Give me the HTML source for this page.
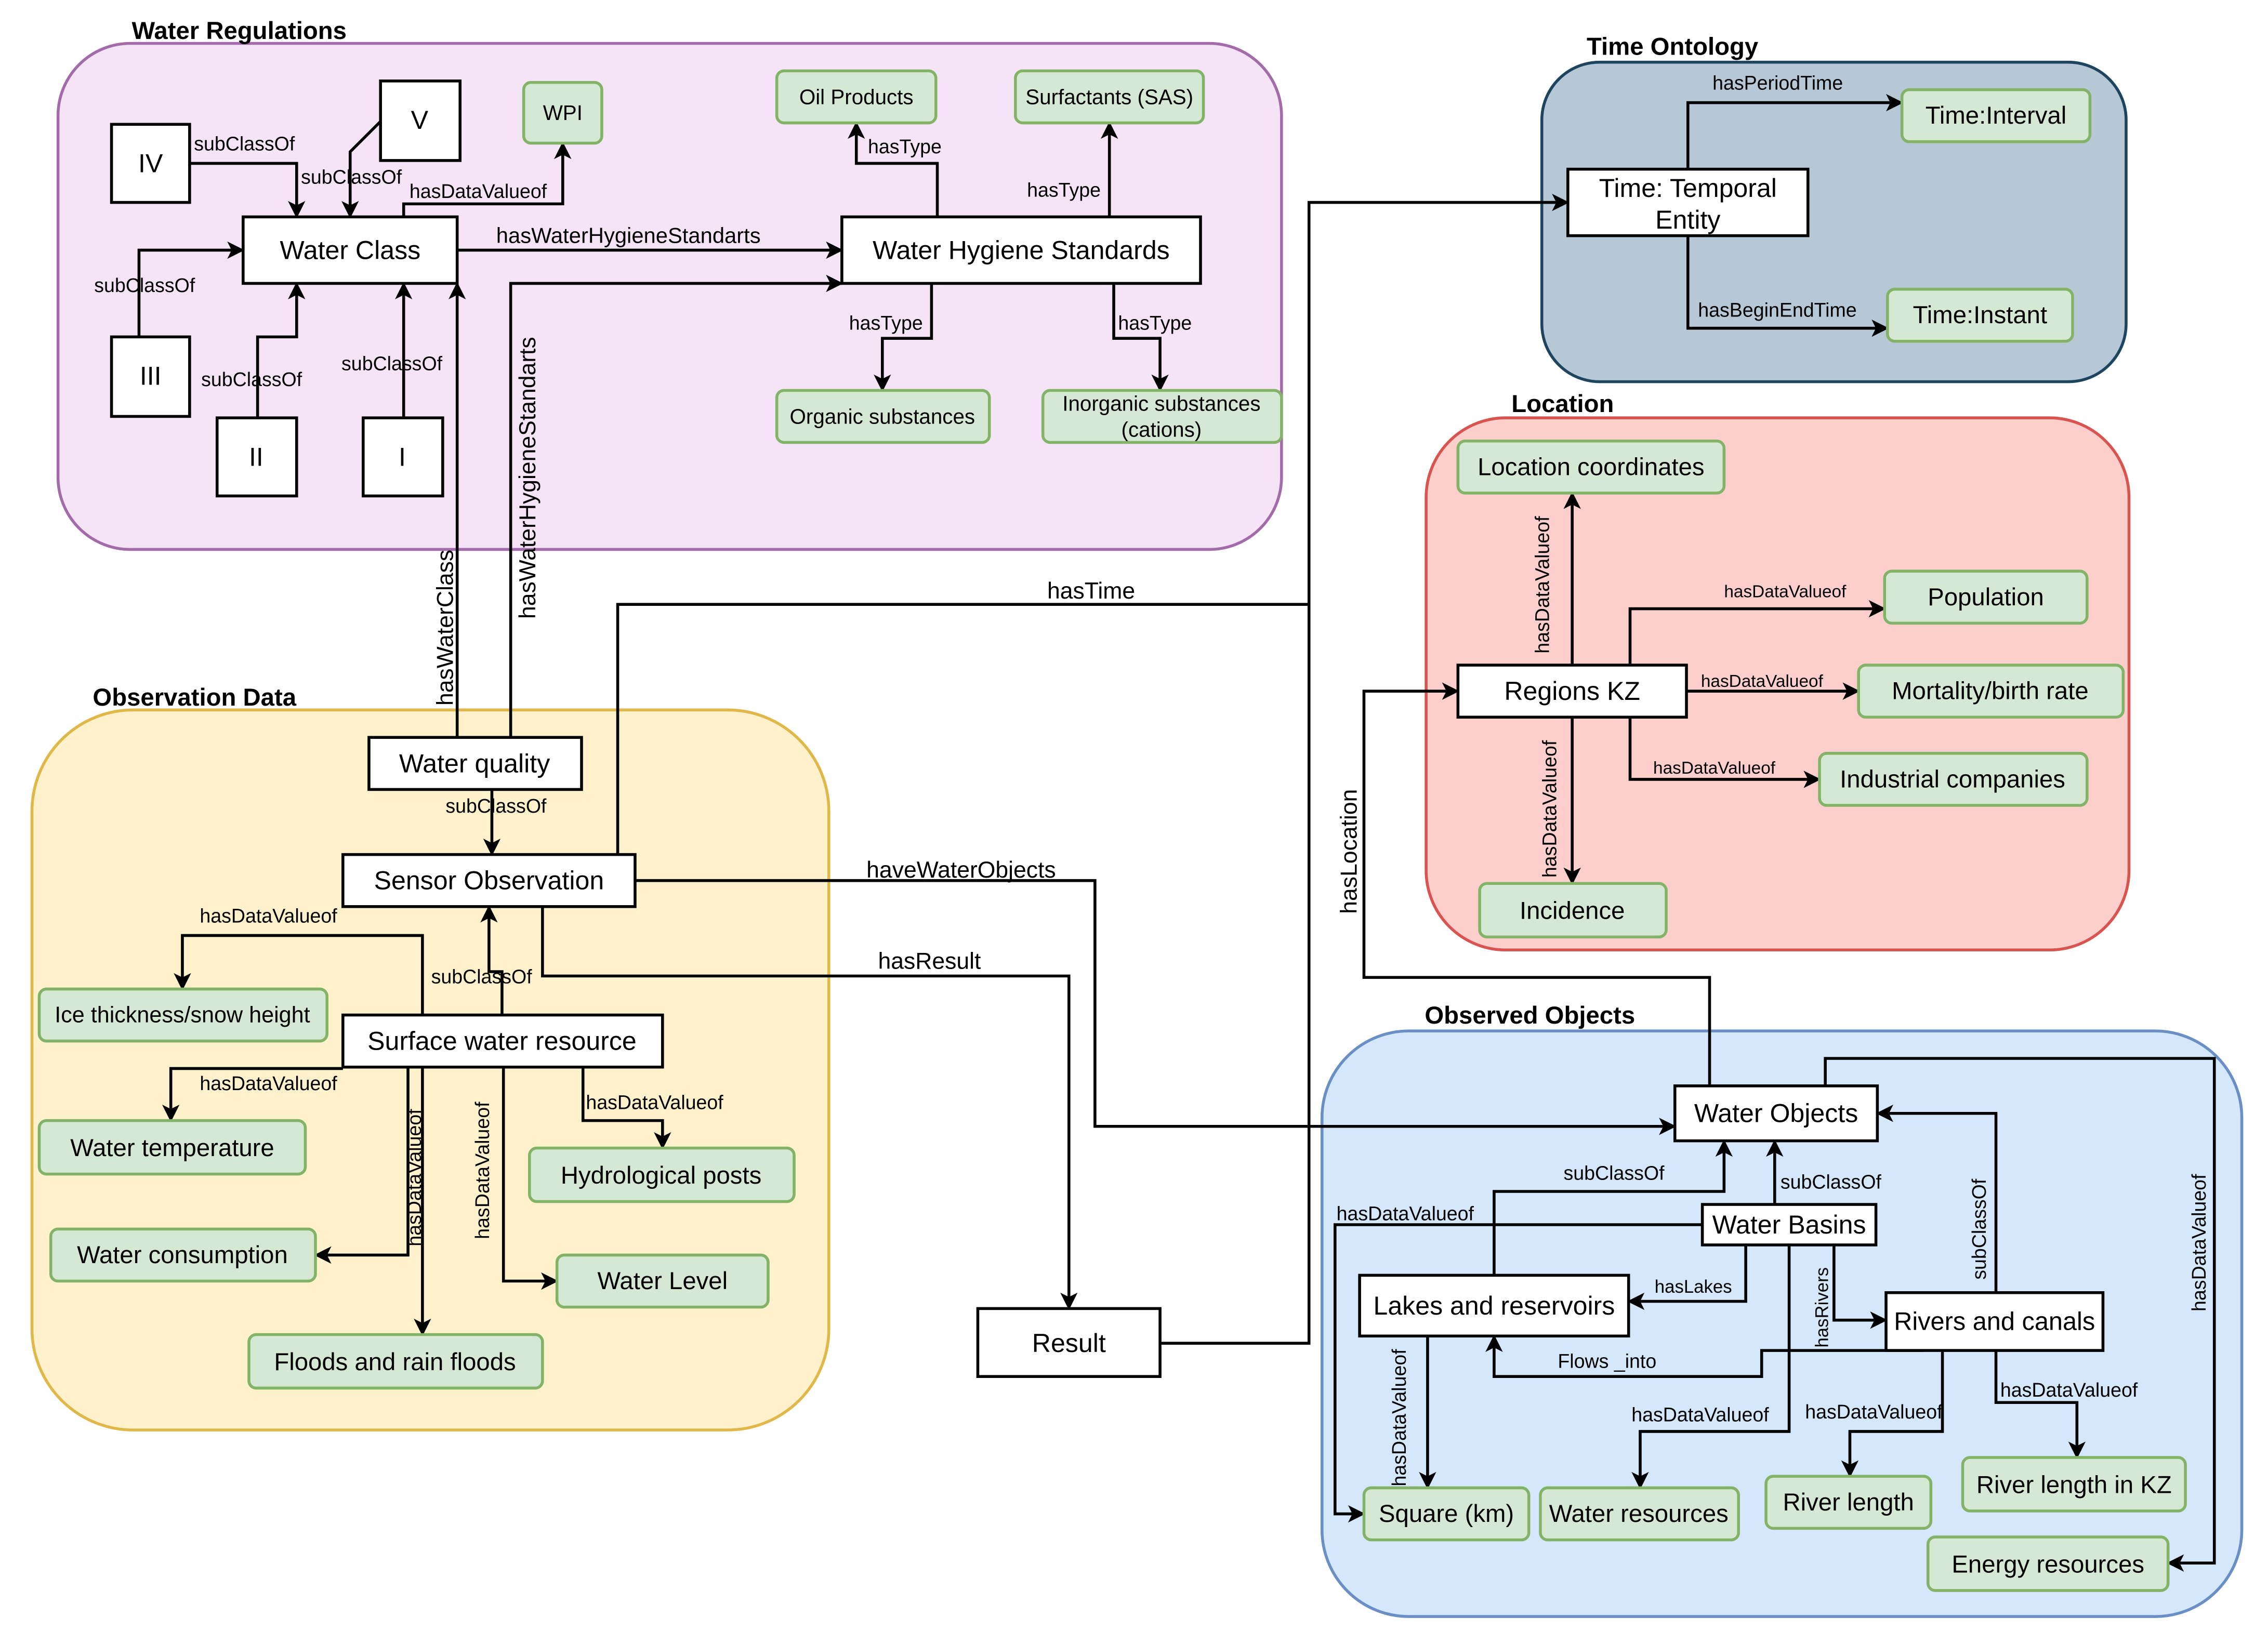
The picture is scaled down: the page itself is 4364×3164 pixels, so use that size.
<!DOCTYPE html>
<html><head><meta charset="utf-8"><style>
html,body{margin:0;padding:0;background:#fff}
svg{display:block}
text{font-family:"Liberation Sans",Arial,sans-serif;fill:#000}
.n{fill:#fff;stroke:#000;stroke-width:2}
.g{fill:#d5e8d4;stroke:#82b366;stroke-width:2}
.e{fill:none;stroke:#000;stroke-width:2;marker-end:url(#a)}
.p{fill:none;stroke:#000;stroke-width:2}
.l{font-size:13.5px}
.t{font-size:17px;font-weight:bold}
.nt{font-size:18px;text-anchor:middle;dominant-baseline:central}
.gt{font-size:17px;text-anchor:middle;dominant-baseline:central}
.st{font-size:14.5px;text-anchor:middle;dominant-baseline:central}
</style></head><body>
<svg width="4364" height="3164" viewBox="0 0 1568 1137" xmlns="http://www.w3.org/2000/svg">
<defs><marker id="a" markerUnits="userSpaceOnUse" markerWidth="14" markerHeight="14" refX="11" refY="6" orient="auto"><path d="M0,0 L12,6 L0,12 L3,6 Z" fill="#000"/></marker></defs>

<rect x="40" y="30" width="846" height="350" rx="50" fill="#f5e4f6" stroke="#a46bab" stroke-width="2"/>
<text x="91" y="27" class="t">Water Regulations</text>
<rect x="1066" y="43" width="404" height="221" rx="40" fill="#b6c8d5" stroke="#1e4560" stroke-width="2"/>
<text x="1097" y="38" class="t">Time Ontology</text>
<rect x="986" y="289" width="486" height="368" rx="55" fill="#fccfcd" stroke="#d9534f" stroke-width="2"/>
<text x="1045" y="285" class="t">Location</text>
<rect x="22" y="491" width="551" height="498" rx="70" fill="#fff1cc" stroke="#e0b84a" stroke-width="2"/>
<text x="64" y="488" class="t">Observation Data</text>
<rect x="914" y="713" width="636" height="405" rx="60" fill="#d5e7fb" stroke="#6a8fc4" stroke-width="2"/>
<text x="985" y="708" class="t">Observed Objects</text>

<polyline class="e" points="131,113 205,113 205,150"/><text class="l" x="134" y="104">subClassOf</text>
<polyline class="e" points="263,84 242,105 242,150"/><text class="l" x="208" y="127">subClassOf</text>
<polyline class="e" points="96,233 96,173 168,173"/><text class="l" x="65" y="202">subClassOf</text>
<polyline class="e" points="178,289 178,233 205,233 205,196"/><text class="l" x="139" y="267">subClassOf</text>
<polyline class="e" points="279,289 279,196"/><text class="l" x="236" y="256">subClassOf</text>
<polyline class="e" points="279,150 279,141 389,141 389,99"/><text class="l" x="283" y="137">hasDataValueof</text>
<polyline class="e" points="316,173 582,173"/><text class="l" x="343" y="168" style="font-size:15px">hasWaterHygieneStandarts</text>
<polyline class="e" points="648,150 648,113 592,113 592,85"/><text class="l" x="600" y="106">hasType</text>
<polyline class="e" points="767,150 767,85"/><text class="l" x="710" y="136">hasType</text>
<polyline class="e" points="644,196 644,234 610,234 610,270"/><text class="l" x="587" y="228">hasType</text>
<polyline class="e" points="770,196 770,234 802,234 802,270"/><text class="l" x="773" y="228">hasType</text>
<polyline class="e" points="316,510 316,196"/><text class="l" transform="translate(313,488) rotate(-90)" style="font-size:16px">hasWaterClass</text>
<polyline class="e" points="353,510 353,196 582,196"/><text class="l" transform="translate(370,428) rotate(-90)" style="font-size:16px">hasWaterHygieneStandarts</text>
<polyline class="e" points="340,546 340,591"/><text class="l" x="308" y="562">subClassOf</text>
<polyline class="e" points="347,702 347,672 338,672 338,627"/><text class="l" x="298" y="680">subClassOf</text>
<polyline class="e" points="427,591 427,418 905,418 905,140 1084,140"/><text class="l" x="724" y="414" style="font-size:16px">hasTime</text>
<polyline class="p" points="802,929 905,929 905,418"/>
<polyline class="e" points="439,609 757,609 757,779 1158,779"/><text class="l" x="599" y="607" style="font-size:16px">haveWaterObjects</text>
<polyline class="e" points="375,627 375,675 739,675 739,905"/><text class="l" x="607" y="670" style="font-size:16px">hasResult</text>
<polyline class="e" points="292,702 292,647 126,647 126,684"/><text class="l" x="138" y="638">hasDataValueof</text>
<polyline class="e" points="237,739 118,739 118,775"/><text class="l" x="138" y="754">hasDataValueof</text>
<polyline class="e" points="403,738 403,775 458,775 458,794"/><text class="l" x="405" y="767">hasDataValueof</text>
<polyline class="e" points="282,738 282,868 218,868"/><text class="l" transform="translate(291,862) rotate(-90)">hasDataValueof</text>
<polyline class="e" points="292,738 292,923"/>
<polyline class="e" points="348,738 348,886 385,886"/><text class="l" transform="translate(338,857) rotate(-90)">hasDataValueof</text>
<polyline class="e" points="1167,117 1167,71 1315,71"/><text class="l" x="1184" y="62">hasPeriodTime</text>
<polyline class="e" points="1167,163 1167,227 1305,227"/><text class="l" x="1174" y="219">hasBeginEndTime</text>
<polyline class="e" points="1087,460 1087,341"/><text class="l" transform="translate(1071,452) rotate(-90)">hasDataValueof</text>
<polyline class="e" points="1127,460 1127,421 1303,421"/><text class="l" x="1192" y="413" style="font-size:12px">hasDataValueof</text>
<polyline class="e" points="1166,478 1285,478"/><text class="l" x="1176" y="475" style="font-size:12px">hasDataValueof</text>
<polyline class="e" points="1127,496 1127,539 1258,539"/><text class="l" x="1143" y="535" style="font-size:12px">hasDataValueof</text>
<polyline class="e" points="1087,496 1087,611"/><text class="l" transform="translate(1076,607) rotate(-90)">hasDataValueof</text>
<polyline class="e" points="1182,751 1182,676 943,676 943,478 1008,478"/><text class="l" transform="translate(938,632) rotate(-90)" style="font-size:16px">hasLocation</text>
<polyline class="e" points="1262,751 1262,732 1531,732 1531,1081 1499,1081"/><text class="l" transform="translate(1525,907) rotate(-90)">hasDataValueof</text>
<polyline class="e" points="1227,833 1227,789"/><text class="l" x="1231" y="822">subClassOf</text>
<polyline class="e" points="1033,882 1033,824 1192,824 1192,789"/><text class="l" x="1081" y="816">subClassOf</text>
<polyline class="e" points="1380,894 1380,770 1298,770"/><text class="l" transform="translate(1373,885) rotate(-90)">subClassOf</text>
<polyline class="e" points="1207,861 1207,900 1126,900"/><text class="l" x="1144" y="894" style="font-size:12.5px">hasLakes</text>
<polyline class="e" points="1268,861 1268,913 1304,913"/><text class="l" transform="translate(1264,932) rotate(-90)" style="font-size:12.5px">hasRivers</text>
<polyline class="e" points="1177,847 923,847 923,1047 943,1047"/><text class="l" x="924" y="844">hasDataValueof</text>
<polyline class="e" points="1330,934 1218,934 1218,952 1033,952 1033,924"/><text class="l" x="1077" y="946">Flows _into</text>
<polyline class="e" points="987,924 987,1029"/><text class="l" transform="translate(972,1028) rotate(-90)">hasDataValueof</text>
<polyline class="e" points="1237,861 1237,990 1134,990 1134,1029"/><text class="l" x="1128" y="983">hasDataValueof</text>
<polyline class="e" points="1343,934 1343,990 1279,990 1279,1021"/><text class="l" x="1248" y="981">hasDataValueof</text>
<polyline class="e" points="1380,934 1380,970 1436,970 1436,1008"/><text class="l" x="1383" y="966">hasDataValueof</text>

<rect class="n" x="77" y="86" width="54" height="54"/><text class="nt" x="104" y="113">IV</text>
<rect class="n" x="263" y="56" width="55" height="55"/><text class="nt" x="290" y="83">V</text>
<rect class="n" x="77" y="233" width="54" height="55"/><text class="nt" x="104" y="260">III</text>
<rect class="n" x="150" y="289" width="55" height="54"/><text class="nt" x="177" y="316">II</text>
<rect class="n" x="251" y="289" width="55" height="54"/><text class="nt" x="278" y="316">I</text>
<rect class="n" x="168" y="150" width="148" height="46"/><text class="nt" x="242" y="173">Water Class</text>
<rect class="n" x="582" y="150" width="248" height="46"/><text class="nt" x="706" y="173">Water Hygiene Standards</text>
<rect class="n" x="1084" y="117" width="166" height="46"/><text class="nt" x="1167" y="130">Time: Temporal</text><text class="nt" x="1167" y="152">Entity</text>
<rect class="n" x="1008" y="460" width="158" height="36"/><text class="nt" x="1087" y="478">Regions KZ</text>
<rect class="n" x="255" y="510" width="147" height="36"/><text class="nt" x="328" y="528">Water quality</text>
<rect class="n" x="237" y="591" width="202" height="36"/><text class="nt" x="338" y="609">Sensor Observation</text>
<rect class="n" x="237" y="702" width="221" height="36"/><text class="nt" x="347" y="720">Surface water resource</text>
<rect class="n" x="676" y="905" width="126" height="47"/><text class="nt" x="739" y="929">Result</text>
<rect class="n" x="1158" y="751" width="140" height="38"/><text class="nt" x="1228" y="770">Water Objects</text>
<rect class="n" x="1177" y="833" width="120" height="28"/><text class="nt" x="1237" y="847">Water Basins</text>
<rect class="n" x="940" y="882" width="186" height="42"/><text class="nt" x="1033" y="903">Lakes and reservoirs</text>
<rect class="n" x="1304" y="894" width="150" height="40"/><text class="nt" x="1379" y="914" style="font-size:17.5px">Rivers and canals</text>

<rect class="g" x="362" y="57" width="54" height="42" rx="5"/><text class="st" x="389" y="78">WPI</text>
<rect class="g" x="537" y="49" width="110" height="36" rx="5"/><text class="st" x="592" y="67">Oil Products</text>
<rect class="g" x="702" y="49" width="130" height="36" rx="5"/><text class="st" x="767" y="67">Surfactants (SAS)</text>
<rect class="g" x="537" y="270" width="147" height="36" rx="5"/><text class="st" x="610" y="288">Organic substances</text>
<rect class="g" x="721" y="270" width="165" height="36" rx="5"/><text class="st" x="803" y="279">Inorganic substances</text><text class="st" x="803" y="297">(cations)</text>
<rect class="g" x="1315" y="62" width="130" height="36" rx="5"/><text class="gt" x="1380" y="80">Time:Interval</text>
<rect class="g" x="1305" y="200" width="128" height="36" rx="5"/><text class="gt" x="1369" y="218">Time:Instant</text>
<rect class="g" x="1008" y="305" width="184" height="36" rx="5"/><text class="gt" x="1100" y="323">Location coordinates</text>
<rect class="g" x="1303" y="395" width="140" height="36" rx="5"/><text class="gt" x="1373" y="413">Population</text>
<rect class="g" x="1285" y="460" width="183" height="36" rx="5"/><text class="gt" x="1376" y="478">Mortality/birth rate</text>
<rect class="g" x="1258" y="521" width="185" height="36" rx="5"/><text class="gt" x="1350" y="539">Industrial companies</text>
<rect class="g" x="1023" y="611" width="129" height="37" rx="5"/><text class="gt" x="1087" y="630">Incidence</text>
<rect class="g" x="27" y="684" width="199" height="36" rx="5"/><text class="st" x="126" y="702" style="font-size:15.5px">Ice thickness/snow height</text>
<rect class="g" x="27" y="775" width="184" height="37" rx="5"/><text class="gt" x="119" y="794">Water temperature</text>
<rect class="g" x="366" y="794" width="183" height="37" rx="5"/><text class="gt" x="457" y="813">Hydrological posts</text>
<rect class="g" x="35" y="850" width="183" height="36" rx="5"/><text class="gt" x="126" y="868">Water consumption</text>
<rect class="g" x="385" y="868" width="146" height="36" rx="5"/><text class="gt" x="458" y="886">Water Level</text>
<rect class="g" x="172" y="923" width="203" height="37" rx="5"/><text class="gt" x="273" y="942">Floods and rain floods</text>
<rect class="g" x="943" y="1029" width="114" height="36" rx="5"/><text class="gt" x="1000" y="1047">Square (km)</text>
<rect class="g" x="1065" y="1029" width="137" height="36" rx="5"/><text class="gt" x="1133" y="1047">Water resources</text>
<rect class="g" x="1221" y="1021" width="114" height="36" rx="5"/><text class="gt" x="1278" y="1039">River length</text>
<rect class="g" x="1357" y="1008" width="154" height="37" rx="5"/><text class="gt" x="1434" y="1027">River length in KZ</text>
<rect class="g" x="1333" y="1063" width="166" height="37" rx="5"/><text class="gt" x="1416" y="1082">Energy resources</text>
</svg>
</body></html>
